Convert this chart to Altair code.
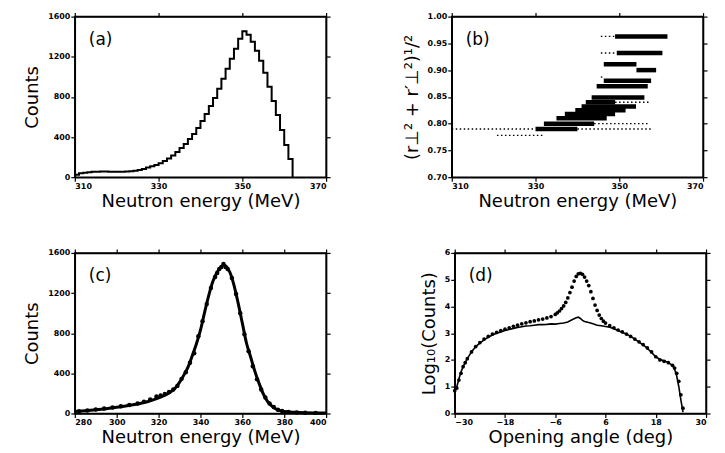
import altair as alt
import pandas as pd

FONT = "DejaVu Sans"
W, H = 252, 161

# ---------------- panel (a): histogram ----------------
a_bin = list(range(310, 363))
a_counts = [25, 38, 45, 50, 53, 55, 56, 56, 55, 54, 54, 55, 57, 60, 65, 72, 82, 95, 108, 122,
            138, 160, 185, 215, 250, 290, 330, 380, 430, 490, 560, 630, 710, 790, 880, 980,
            1080, 1180, 1280, 1380, 1455, 1420, 1350, 1260, 1160, 1040, 900, 760, 620, 470,
            320, 180, 0]

# ---------------- panel (b): bands ----------------
b_thick_y = [0.963, 0.932, 0.911, 0.900, 0.880, 0.870, 0.849, 0.840, 0.832, 0.825, 0.818, 0.810,
             0.800, 0.790]
b_thick_x0 = [349.0, 349.4, 346.3, 354.1, 346.3, 344.6, 343.4, 342.0, 341.0, 339.5, 337.0, 335.0,
              332.0, 330.0]
b_thick_x1 = [361.5, 360.3, 354.1, 358.8, 357.6, 356.8, 356.0, 349.0, 354.0, 351.5, 349.0, 347.0,
              344.0, 340.0]
b_dot_y = [0.963, 0.932, 0.790, 0.778, 0.790, 0.800, 0.840, 0.887]
b_dot_x0 = [345.6, 345.6, 310.0, 320.8, 340.0, 344.0, 349.0, 345.6]
b_dot_x1 = [349.0, 349.4, 330.0, 332.0, 357.5, 357.0, 357.0, 346.3]

# ---------------- panel (c): fit curve + data points ----------------
c_fit_x = [280, 285, 290, 295, 300, 305, 310, 315, 320, 325, 328, 330, 332, 334, 336, 338, 340,
           342, 344, 346, 348, 350, 351, 352, 354, 356, 358, 360, 362, 364, 366, 368, 370, 372,
           374, 376, 378, 380, 385, 390, 395, 400]
c_fit_y = [20, 28, 37, 48, 62, 78, 95, 120, 155, 205, 255, 310, 380, 460, 570, 690, 830, 1010,
           1180, 1320, 1410, 1465, 1480, 1470, 1410, 1280, 1100, 900, 700, 560, 420, 300, 195,
           120, 75, 45, 28, 20, 12, 8, 6, 5]
c_pt_x = [282, 286, 290, 294, 298, 302, 306, 310, 313, 316, 319, 321, 323, 325, 327, 329, 331,
          333, 335, 337, 339, 341, 343, 345, 347, 348, 349, 350, 351, 352, 353, 355, 357, 359,
          361, 363, 365, 367, 369, 371, 373, 375, 377, 379, 382, 386, 390, 395]
c_pt_y = [22, 30, 40, 50, 60, 72, 85, 100, 118, 140, 170, 180, 195, 215, 240, 275, 345, 410,
          505, 600, 770, 920, 1090, 1250, 1360, 1400, 1440, 1460, 1490, 1460, 1440, 1350, 1190,
          1000, 790, 620, 470, 340, 240, 160, 100, 65, 38, 25, 16, 10, 8, 6]

# ---------------- panel (d): opening angle ----------------
d_line_x = [-30, -29.5, -29, -28.5, -28, -27, -26, -25, -24, -23, -22, -21, -20, -19, -18, -17,
            -16, -15, -14, -13, -12, -11, -10, -9, -8, -7, -6, -5, -4, -3, -2, -1, -0.5, 0, 0.5,
            1, 2, 3, 4, 5, 6, 7, 8, 9, 10, 11, 12, 13, 14, 15, 16, 17, 18, 19, 20, 21, 22, 22.5,
            23, 23.5, 24, 24.5]
d_line_y = [0.85, 1.0, 1.3, 1.55, 1.75, 2.05, 2.3, 2.5, 2.63, 2.75, 2.85, 2.93, 3.0, 3.05, 3.1,
            3.14, 3.18, 3.21, 3.24, 3.27, 3.28, 3.3, 3.32, 3.32, 3.33, 3.35, 3.34, 3.36, 3.38,
            3.42, 3.5, 3.58, 3.6, 3.55, 3.48, 3.44, 3.4, 3.35, 3.3, 3.28, 3.25, 3.22, 3.17, 3.1,
            3.03, 2.97, 2.88, 2.78, 2.67, 2.56, 2.43, 2.28, 2.12, 2.02, 1.97, 1.9, 1.8, 1.65,
            1.4, 1.0, 0.5, 0.05]
d_dot_x = [-30, -29.5, -29, -28.5, -28, -27.5, -27, -26, -25, -24, -23, -22, -21, -20, -19, -18,
           -17, -16, -15, -14, -13, -12, -11, -10, -9, -8, -7, -6, -5.5, -5, -4.5, -4, -3.5, -3,
           -2.5, -2, -1.5, -1, -0.5, 0, 0.5, 1, 1.5, 2, 2.5, 3, 3.5, 4, 4.5, 5, 5.5, 6, 7, 8, 9,
           10, 11, 12, 13, 14, 15, 16, 17, 18, 19, 20, 21, 22, 22.5, 23, 23.5, 24, 24.5]
d_dot_y = [0.85, 0.95, 1.25, 1.5, 1.75, 1.9, 2.05, 2.3, 2.5, 2.65, 2.78, 2.88, 2.97, 3.03, 3.1,
           3.15, 3.2, 3.26, 3.3, 3.35, 3.39, 3.43, 3.46, 3.5, 3.53, 3.57, 3.62, 3.7, 3.76, 3.83,
           3.92, 4.02, 4.15, 4.32, 4.52, 4.72, 4.95, 5.12, 5.22, 5.24, 5.2, 5.1, 4.95, 4.78, 4.55,
           4.3, 4.05, 3.85, 3.68, 3.55, 3.45, 3.38, 3.28, 3.2, 3.12, 3.05, 2.97, 2.88, 2.78, 2.68,
           2.57, 2.45, 2.3, 2.12, 2.0, 1.95, 1.9, 1.8, 1.7, 1.5, 1.2, 0.7, 0.2]

line_style = dict(domainColor="black", domainWidth=1.5, tickColor="black", tickWidth=1.2,
                  tickSize=4, grid=False)
text_style = dict(labelFont=FONT, labelFontSize=8, labelFontWeight="bold",
                  labelColor="black", titleFont=FONT, titleFontSize=18, titleFontWeight="normal",
                  titleColor="black")


def xaxis(values, title, fmt="d"):
    return alt.Axis(values=values, title=title, titlePadding=2, labelPadding=1, format=fmt,
                    **line_style, **text_style)


def yaxis(values, title, fmt="d"):
    return alt.Axis(values=values, title=title, titlePadding=6, labelPadding=1, format=fmt,
                    **line_style, **text_style)


def frame_layer(xdom, ydom, xvals, yvals):
    df = pd.DataFrame({"fx": [xdom[0]], "fy": [ydom[0]]})
    return alt.Chart(df).mark_point(opacity=0).encode(
        x=alt.X("fx:Q", scale=alt.Scale(domain=xdom, nice=False, zero=False),
                axis=alt.Axis(orient="top", values=xvals, labels=False, title=None, **line_style)),
        y=alt.Y("fy:Q", scale=alt.Scale(domain=ydom, nice=False, zero=False),
                axis=alt.Axis(orient="right", values=yvals, labels=False, title=None, **line_style)),
    )


def label(txt):
    return alt.Chart(pd.DataFrame({"t": [txt]})).mark_text(
        font=FONT, fontSize=17, align="left", baseline="middle", color="black"
    ).encode(text="t:N", x=alt.value(14), y=alt.value(23))


def panel(layers, xdom, ydom, xvals, yvals, tag):
    return alt.layer(*layers, label(tag), frame_layer(xdom, ydom, xvals, yvals)).resolve_axis(
        x="independent", y="independent").properties(width=W, height=H)


# (a)
a_x = [310, 330, 350, 370]
a_y = [0, 400, 800, 1200, 1600]
dfa = pd.DataFrame({"e": a_bin, "c": a_counts})
a_main = alt.Chart(dfa).mark_line(interpolate="step-after", color="black", strokeWidth=2).encode(
    x=alt.X("e:Q", scale=alt.Scale(domain=[310, 370], nice=False, zero=False),
            axis=xaxis(a_x, "Neutron energy (MeV)")),
    y=alt.Y("c:Q", scale=alt.Scale(domain=[0, 1600], nice=False), axis=yaxis(a_y, "Counts")),
)
pa = panel([a_main], [310, 370], [0, 1600], a_x, a_y, "(a)")

# (b)
b_x = [310, 330, 350, 370]
b_y = [0.70, 0.75, 0.80, 0.85, 0.90, 0.95, 1.00]
dfb1 = pd.DataFrame({"y": b_thick_y, "x0": b_thick_x0, "x1": b_thick_x1})
dfb2 = pd.DataFrame({"y": b_dot_y, "x0": b_dot_x0, "x1": b_dot_x1})
bsx = alt.Scale(domain=[310, 370], nice=False, zero=False)
bsy = alt.Scale(domain=[0.70, 1.00], nice=False, zero=False)
b_thick = alt.Chart(dfb1).mark_rule(color="black", strokeWidth=4.5).encode(
    x=alt.X("x0:Q", scale=bsx, axis=xaxis(b_x, "Neutron energy (MeV)")), x2="x1:Q",
    y=alt.Y("y:Q", scale=bsy, axis=yaxis(b_y, "(r⊥² + r′⊥²)¹/²", ".2f")))
b_dots = alt.Chart(dfb2).mark_rule(color="black", strokeWidth=1.3, strokeDash=[1.5, 2.5]).encode(
    x=alt.X("x0:Q", scale=bsx, axis=None), x2="x1:Q",
    y=alt.Y("y:Q", scale=bsy, axis=None))
pb = panel([b_thick, b_dots], [310, 370], [0.70, 1.00], b_x, b_y, "(b)")

# (c)
c_x = [280, 300, 320, 340, 360, 380, 400]
c_y = [0, 400, 800, 1200, 1600]
dfc1 = pd.DataFrame({"e": c_fit_x, "c": c_fit_y})
dfc2 = pd.DataFrame({"e": c_pt_x, "c": c_pt_y})
csx = alt.Scale(domain=[280, 400], nice=False, zero=False)
csy = alt.Scale(domain=[0, 1600], nice=False)
c_line = alt.Chart(dfc1).mark_line(color="black", strokeWidth=3, interpolate="monotone").encode(
    x=alt.X("e:Q", scale=csx, axis=xaxis(c_x, "Neutron energy (MeV)")),
    y=alt.Y("c:Q", scale=csy, axis=yaxis(c_y, "Counts")))
c_pts = alt.Chart(dfc2).mark_circle(color="black", size=20, opacity=1).encode(
    x=alt.X("e:Q", scale=csx, axis=None), y=alt.Y("c:Q", scale=csy, axis=None))
pc = panel([c_line, c_pts], [280, 400], [0, 1600], c_x, c_y, "(c)")

# (d)
d_x = [-30, -18, -6, 6, 18, 30]
d_y = [0, 1, 2, 3, 4, 5, 6]
dfd1 = pd.DataFrame({"a": d_line_x, "l": d_line_y})
dfd2 = pd.DataFrame({"a": d_dot_x, "l": d_dot_y})
dsx = alt.Scale(domain=[-30, 30], nice=False, zero=False)
dsy = alt.Scale(domain=[0, 6], nice=False)
d_line = alt.Chart(dfd1).mark_line(color="black", strokeWidth=1.6).encode(
    x=alt.X("a:Q", scale=dsx, axis=xaxis(d_x, "Opening angle (deg)")),
    y=alt.Y("l:Q", scale=dsy, axis=yaxis(d_y, "Log₁₀(Counts)")))
d_pts = alt.Chart(dfd2).mark_circle(color="black", size=14, opacity=1).encode(
    x=alt.X("a:Q", scale=dsx, axis=None), y=alt.Y("l:Q", scale=dsy, axis=None))
pd_ = panel([d_line, d_pts], [-30, 30], [0, 6], d_x, d_y, "(d)")

top = alt.hconcat(pa, pb, spacing=70)
bottom = alt.hconcat(pc, pd_, spacing=86)
chart = alt.vconcat(top, bottom, spacing=36).configure_view(stroke="black", strokeWidth=1.5).properties(
    padding={"left": 14, "top": 2, "right": 5, "bottom": 5}, background="white")

chart.save("out.html", embed_options={"renderer": "svg", "actions": False})
